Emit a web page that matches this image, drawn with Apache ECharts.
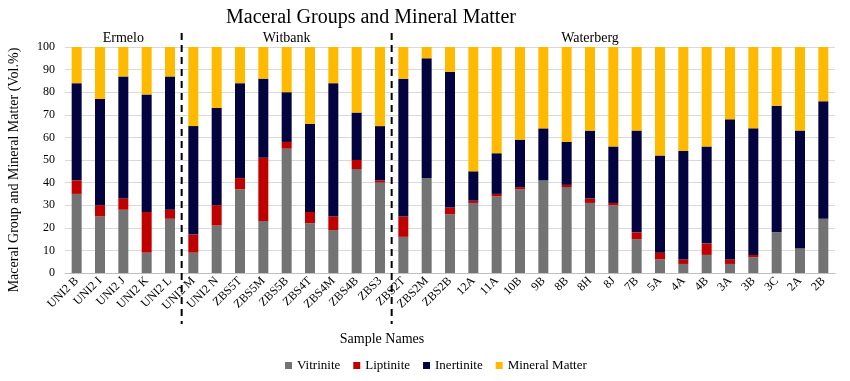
<!DOCTYPE html>
<html><head><meta charset="utf-8">
<script src="https://cdn.jsdelivr.net/npm/echarts@6/dist/echarts.min.js"></script>
<style>html,body{margin:0;padding:0;background:#fff}#c{width:850px;height:381px}</style>
</head><body><div id="c"></div>
<script>
var categories = ["UNI2 B","UNI2 I","UNI2 J","UNI2 K","UNI2 L","UNI2 M","UNI2 N","ZBS5T","ZBS5M","ZBS5B","ZBS4T","ZBS4M","ZBS4B","ZBS3","ZBS2T","ZBS2M","ZBS2B","12A","11A","10B","9B","8B","8H","8J","7B","5A","4A","4B","3A","3B","3C","2A","2B"];
var vitrinite     = [35,25,28, 9,24,  9,21,37,23,55,22,19,46,40,  16,42,26,31,34,37,41,38,31,30,15, 6, 4, 8, 4, 7,18,11,24];
var liptinite     = [ 6, 5, 5,18, 4,  8, 9, 5,28, 3, 5, 6, 4, 1,   9, 0, 3, 1, 1, 1, 0, 1, 2, 1, 3, 3, 2, 5, 2, 1, 0, 0, 0];
var inertinite    = [43,47,54,52,59, 48,43,42,35,22,39,59,21,24,  61,53,60,13,18,21,23,19,30,25,45,43,48,43,62,56,56,52,52];
var mineralMatter = [16,23,13,21,13, 35,27,16,14,20,34,16,29,35,  14, 5,11,55,47,41,36,42,37,44,37,48,46,44,32,36,26,37,24];
var yTicks = [0,10,20,30,40,50,60,70,80,90,100];
var groups = [{name:"Ermelo", center:2},{name:"Witbank", center:9},{name:"Waterberg", center:22}];
var dividers = [4.5, 13.5];

var serif = '"Liberation Serif","DejaVu Serif",serif';
var chart = echarts.init(document.getElementById('c'));
function mk(name, data, color){
  return {name:name, type:'bar', stack:'t', data:data, barWidth:10,
    itemStyle:{color:color}, emphasis:{disabled:true}};
}
chart.setOption({
  animation:false,
  title:{text:'Maceral Groups and Mineral Matter', left:366, textAlign:'center', top:3,
    textStyle:{fontFamily:serif, fontSize:20, fontWeight:'normal', color:'#000'}},
  legend:{bottom:4, left:280, itemWidth:7, itemHeight:7, itemGap:13,
    icon:'rect', textStyle:{fontFamily:serif, fontSize:13, color:'#000'},
    data:['Vitrinite','Liptinite','Inertinite','Mineral Matter']},
  grid:{left:65, right:15, top:47, bottom:108, containLabel:false},
  xAxis:{type:'category', data:categories,
    axisLine:{lineStyle:{color:'#bfbfbf'}}, axisTick:{show:false},
    axisLabel:{rotate:45, interval:0, fontFamily:serif, fontSize:12, color:'#000', margin:6}},
  yAxis:{type:'value', min:0, max:100, interval:10,
    axisLabel:{fontFamily:serif, fontSize:12, color:'#000', margin:10,
      formatter:function(v){return yTicks.indexOf(v)>=0?String(v):'';}},
    splitLine:{lineStyle:{color:'#d9d9d9'}}, axisLine:{show:false}, axisTick:{show:false}},
  series:[mk('Vitrinite',vitrinite,'#737373'), mk('Liptinite',liptinite,'#c00000'),
          mk('Inertinite',inertinite,'#03033f'), mk('Mineral Matter',mineralMatter,'#ffba00')]
});
var y100 = chart.convertToPixel({yAxisIndex:0}, 100);
var y0 = chart.convertToPixel({yAxisIndex:0}, 0);
var els = [];
dividers.forEach(function(d){
  var a = chart.convertToPixel({xAxisIndex:0}, Math.floor(d));
  var b = chart.convertToPixel({xAxisIndex:0}, Math.ceil(d));
  var x = (a+b)/2;
  els.push({type:'line', shape:{x1:x,y1:y100-14,x2:x,y2:y0+51}, z:100,
    style:{stroke:'#000', lineWidth:2, lineDash:[7,5]}});
});
groups.forEach(function(g){
  var x = chart.convertToPixel({xAxisIndex:0}, g.center);
  els.push({type:'text', x:x, y:y100-2, z:100,
    style:{text:g.name, fontFamily:serif, fontSize:14, fill:'#000', align:'center', verticalAlign:'bottom'}});
});
els.push({type:'text', x:382, y:y0+66, z:100,
  style:{text:'Sample Names', fontFamily:serif, fontSize:14, fill:'#000', align:'center', verticalAlign:'middle'}});
els.push({type:'text', x:14, y:170, rotation:Math.PI/2, z:100,
  style:{text:'Maceral Group and Mineral Matter (Vol.%)', fontFamily:serif, fontSize:14, fill:'#000', align:'center', verticalAlign:'middle'}});
chart.setOption({graphic:els});
</script></body></html>
